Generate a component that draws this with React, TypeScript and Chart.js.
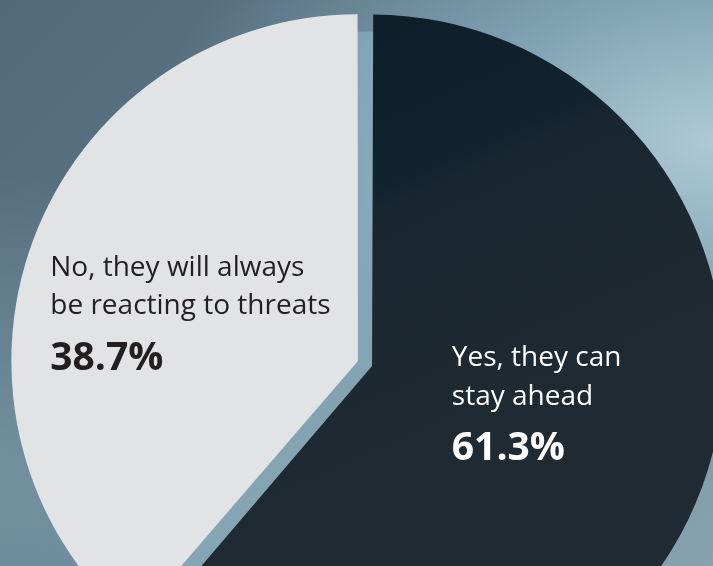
import React, { useEffect, useRef } from "react";
import { Chart, registerables } from "chart.js";

Chart.register(...registerables);

const categories = ["Yes, they can stay ahead", "No, they will always be reacting to threats"];
const labelLines = [
  ["Yes, they can", "stay ahead"],
  ["No, they will always", "be reacting to threats"],
];
const shares = [61.3, 38.7];
const sliceColors = ["#1d2931", "#e2e3e5"];
const textColors = ["#ffffff", "#231f20"];

const W = 713;
const H = 566;

const backdropPlugin = {
  id: "backdrop",
  beforeDatasetsDraw(chart: any) {
    const meta = chart.getDatasetMeta(0);
    const a = meta.data[0];
    if (!a) return;
    const ctx = chart.ctx;
    ctx.save();
    ctx.beginPath();
    ctx.arc(a.x, a.y + 6, a.outerRadius - 6, 0, Math.PI * 2);
    ctx.fillStyle = "rgba(160,192,206,0.45)";
    ctx.fill();
    ctx.restore();
  },
};

const labelPlugin = {
  id: "sliceLabels",
  afterDatasetsDraw(chart: any) {
    const meta = chart.getDatasetMeta(0);
    const ctx = chart.ctx;
    const regFont = "28px 'Open Sans', 'Noto Sans', sans-serif";
    const boldFont = "bold 39px 'Open Sans', 'Noto Sans', sans-serif";
    meta.data.forEach((arc: any, i: number) => {
      const mid = (arc.startAngle + arc.endAngle) / 2 - 0.1;
      const R = arc.outerRadius;
      const ax = arc.x + 0.52 * R * Math.cos(mid);
      const ay = arc.y + 0.52 * R * Math.sin(mid);
      const lines = labelLines[i];
      const pct = shares[i].toFixed(1) + "%";
      ctx.save();
      ctx.font = regFont;
      let w = 0;
      lines.forEach((l) => (w = Math.max(w, ctx.measureText(l).width)));
      ctx.font = boldFont;
      w = Math.max(w, ctx.measureText(pct).width);
      const left = ax - w / 2 - 1.5;
      const b1 = ay - 42.5;
      ctx.fillStyle = textColors[i];
      ctx.textAlign = "left";
      ctx.textBaseline = "alphabetic";
      ctx.font = regFont;
      lines.forEach((l, k) => ctx.fillText(l, left, b1 + k * 38.5));
      ctx.font = boldFont;
      ctx.fillText(pct, left, b1 + 94);
      ctx.restore();
    });
  },
};

export default function App() {
  const ref = useRef<HTMLCanvasElement>(null);
  useEffect(() => {
    if (!ref.current) return;
    const chart = new Chart(ref.current, {
      type: "pie",
      data: {
        labels: categories,
        datasets: [
          {
            data: shares,
            backgroundColor: (c: any) => {
              const i = c.dataIndex;
              if (i !== 0) return sliceColors[i];
              const g = c.chart.ctx.createLinearGradient(372, 0, 560, 420);
              g.addColorStop(0, "#0d1e28");
              g.addColorStop(0.35, "#102330");
              g.addColorStop(0.45, "#1b2730");
              g.addColorStop(1, "#1f2a32");
              return g;
            },
            borderWidth: 0,
            offset: 30,
            hoverOffset: 0,
            radius: 344,
            clip: false,
          } as any,
        ],
      },
      options: {
        responsive: false,
        animation: false,
        layout: { padding: { left: 17, top: 161, right: 0, bottom: 0 } },
        plugins: {
          legend: { display: false },
          tooltip: { enabled: false },
        },
        events: [],
      },
      plugins: [backdropPlugin, labelPlugin],
    });
    return () => chart.destroy();
  }, []);

  return (
    <div
      style={{
        position: "absolute",
        left: 0,
        top: 0,
        width: W,
        height: H,
        overflow: "hidden",
        background:
          "radial-gradient(ellipse at 100% 25%, rgba(178,204,216,0.95) 0%, rgba(140,176,194,0.7) 25%, rgba(120,155,172,0) 55%), radial-gradient(ellipse at 0% 85%, rgba(120,152,166,0.8) 0%, rgba(120,152,166,0) 45%), linear-gradient(135deg, #52697a 0%, #5b7585 35%, #6a8a9a 60%, #88a3af 100%)",
      }}
    >
      <canvas ref={ref} width={W} height={H} style={{ display: "block" }} />
    </div>
  );
}
